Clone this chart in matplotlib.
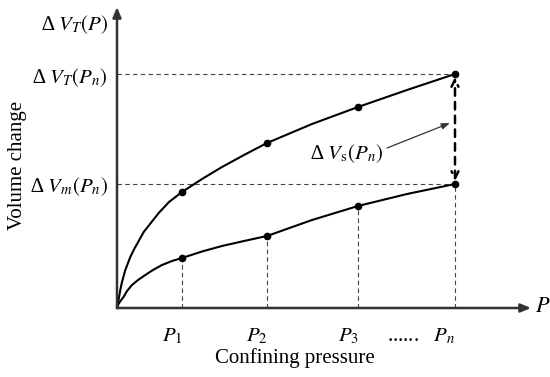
import matplotlib
matplotlib.use("Agg")
import matplotlib.pyplot as plt

plt.rcParams["font.family"] = ["Liberation Serif", "DejaVu Serif"]
plt.rcParams["mathtext.fontset"] = "stix"

# confining pressure levels and the measured volume changes at them
p_levels = [65, 150, 241, 338]
p_labels = [r"$P_1$", r"$P_2$", r"$P_3$", r"......   $P_n$"]
vt_points = [116, 165, 201, 234]
vm_points = [50, 72, 102, 124]

# points
vt_curve_x = [0, 1, 3.3, 5, 8.3, 13.3, 16.7, 26.7, 41.7, 52, 65, 85, 105, 127, 150, 195, 241, 290, 338]
vt_curve_y = [0, 5, 18, 26, 38, 51, 58, 76, 95, 106, 116, 129, 141, 153, 165, 184, 201, 218, 234]
vm_curve_x = [0, 1.5, 3.5, 6.7, 10, 15, 21, 28.3, 36, 45, 55, 65, 85, 105, 127, 150, 195, 241, 290, 338]
vm_curve_y = [0, 4, 7, 11.3, 17, 23, 28, 33, 38, 43, 47, 50, 56.5, 62, 67, 72, 88, 102, 114, 124]

fig = plt.figure(figsize=(5.5, 3.77), dpi=100)
ax = fig.add_axes([117 / 550, 69 / 377, 420 / 550, 308 / 377])
ax.set_xlim(0, 420)
ax.set_ylim(0, 308)
ax.axis("off")

dash = dict(color="#444444", lw=0.8, ls=(0, (4, 3)), clip_on=False)
ax.plot([0, p_levels[-1]], [vt_points[-1]] * 2, **dash)
ax.plot([0, p_levels[-1]], [vm_points[-1]] * 2, **dash)
for px, vy in zip(p_levels, vm_points):
    ax.plot([px, px], [0, vy], **dash)

ax.plot(vt_curve_x, vt_curve_y, color="black", lw=1.5, clip_on=False, solid_joinstyle="round")
ax.plot(vm_curve_x, vm_curve_y, color="black", lw=1.5, clip_on=False, solid_joinstyle="round")
ax.plot(p_levels, vt_points, "o", color="black", ms=4.5, clip_on=False)
ax.plot(p_levels, vm_points, "o", color="black", ms=4.5, clip_on=False)

# axes arrows
ax.annotate("", xy=(414, 0), xytext=(0, 0), annotation_clip=False,
            arrowprops=dict(arrowstyle="-|>,head_length=0.6,head_width=0.25",
                            color="#333333", lw=1.8, shrinkA=0, shrinkB=0))
ax.annotate("", xy=(0, 301), xytext=(0, 0), annotation_clip=False,
            arrowprops=dict(arrowstyle="-|>,head_length=0.6,head_width=0.25",
                            color="#333333", lw=1.8, shrinkA=0, shrinkB=0))

# double arrow for the difference at Pn
ax.annotate("", xy=(p_levels[-1], vt_points[-1] - 3), xytext=(p_levels[-1], vm_points[-1] + 3),
            annotation_clip=False,
            arrowprops=dict(arrowstyle="<->,head_length=0.5,head_width=0.25",
                            color="black", lw=1.8, ls=(0, (3, 2.5)), shrinkA=0, shrinkB=0))
ax.annotate("", xy=(333, 185), xytext=(270, 160), annotation_clip=False,
            arrowprops=dict(arrowstyle="-|>,head_length=0.5,head_width=0.18",
                            color="#333333", lw=0.9, shrinkA=0, shrinkB=0))
ax.text(266, 154, "\u2206 " + r"$V_{\mathrm{s}}(P_n)$", fontsize=15, ha="right", va="center")

# left labels
ax.text(-9, 283, "\u2206 " + r"$V_T(P)$", fontsize=15, ha="right", va="center")
ax.text(-9, vt_points[-1] - 4, "\u2206 " + r"$V_T(P_n)$", fontsize=15, ha="right", va="center")
ax.text(-9, vm_points[-1] - 3, "\u2206 " + r"$V_m(P_n)$", fontsize=15, ha="right", va="center")

for px, lab in zip(p_levels, p_labels):
    ax.text(px + 1, -33, lab, fontsize=15, ha="right", va="baseline")
ax.text(418, 0, r"$P$", fontsize=16, ha="left", va="center")

ax.text(178, -55, "Confining pressure", fontsize=15, ha="center", va="baseline")
ax.text(-99, 143, "Volume change", fontsize=15, ha="center", va="center", rotation=90)

fig.savefig("out.png", dpi=100)
